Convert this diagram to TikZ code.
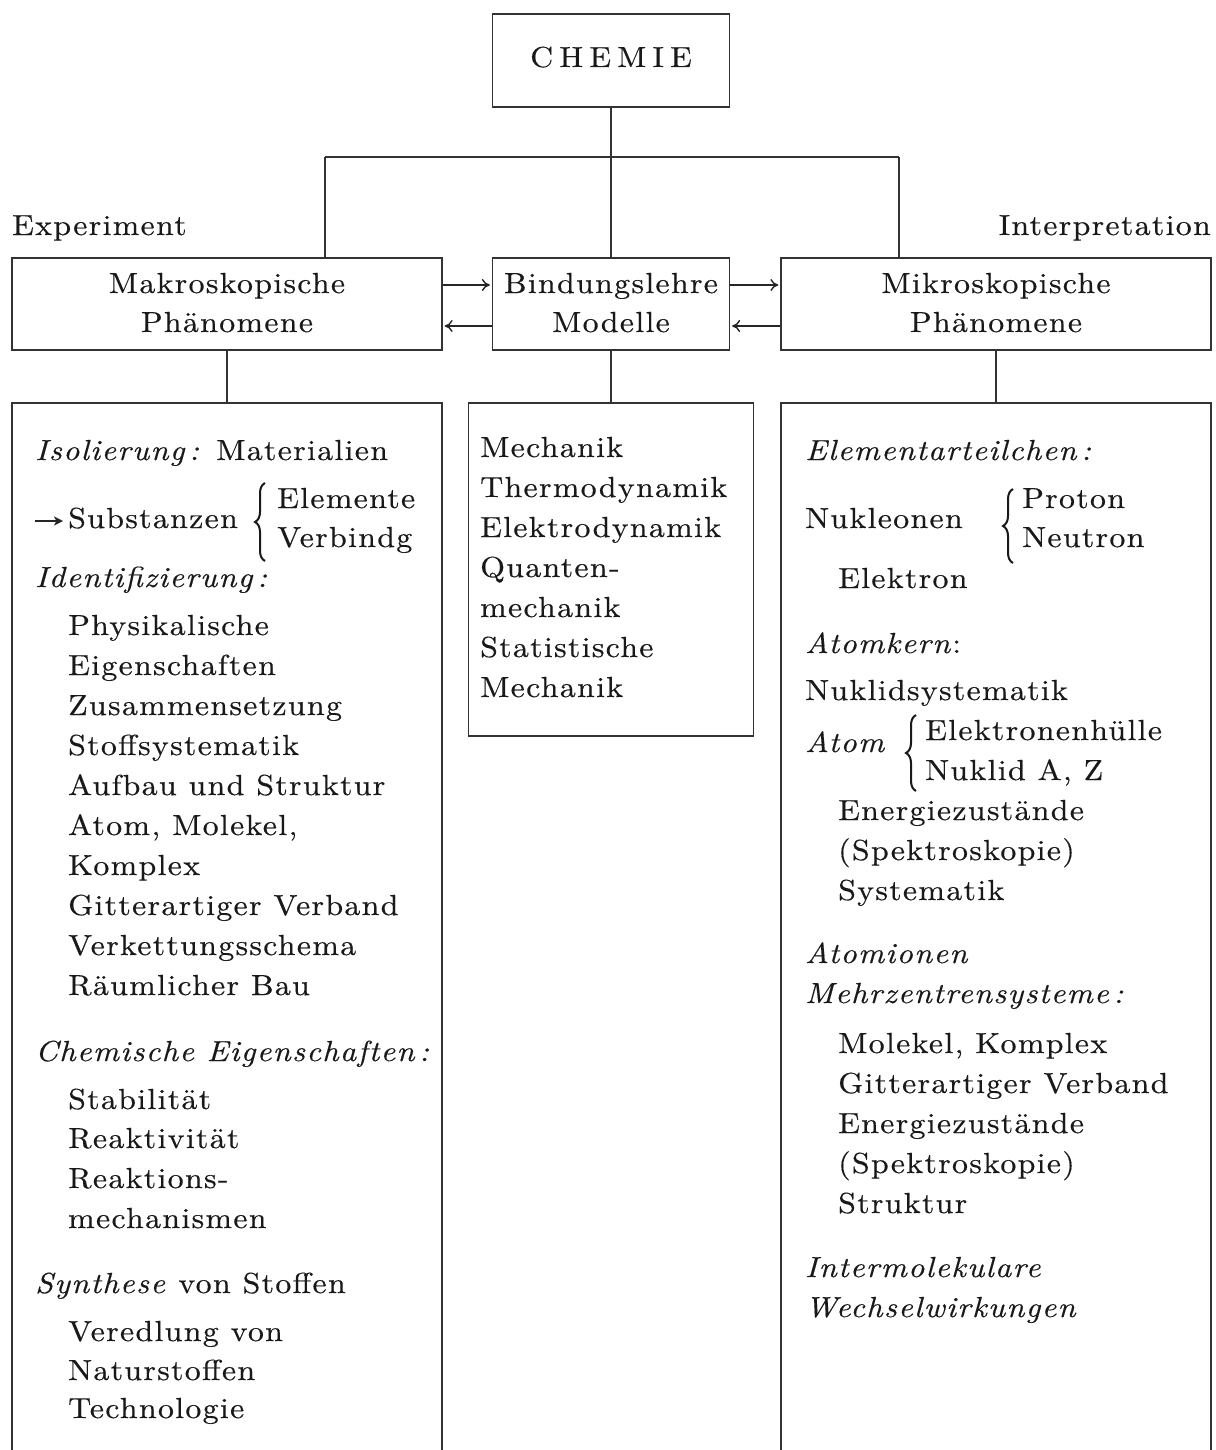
\documentclass[tikz,border=0pt]{standalone}
\usepackage{fontspec}
\setmainfont{lmroman10-regular.otf}[ItalicFont=lmroman10-italic.otf, FakeStretch=1.1, LetterSpace=4.5, FakeBold=0.4]
\newfontfamily\widefont{lmroman10-regular.otf}[FakeStretch=1.1, LetterSpace=21, FakeBold=0.4]
\usetikzlibrary{arrows.meta,decorations.pathreplacing}
\begin{document}
\begin{tikzpicture}[x=1pt,y=-1pt,
  every node/.style={inner sep=0pt, font=\fontsize{29pt}{40pt}\selectfont, text=black!90},
  boxnode/.style={draw=black!80, line width=1.3pt, minimum width=#1},
  lne/.style={draw=black!80, line width=1.3pt},
  txt/.style={anchor=base west},
  ctxt/.style={anchor=base},
  arr/.style={draw=black!85, line width=1.4pt, -{Computer Modern Rightarrow[length=8pt,width=12pt]}, shorten >=2pt},
  smallarr/.style={draw=black!85, line width=1.6pt, -{Stealth[length=9pt,width=9pt,inset=2.5pt]}},
  brc/.style={draw=black!90, line width=2pt, decorate, decoration={brace, amplitude=10pt, aspect=0.5}}
]
\useasboundingbox (0,0) rectangle (1215,1450);

% top box
\node[boxnode=237pt, minimum height=93pt] (chemie) at (611,60.5) {};
\node[ctxt] (chemietxt) at (611,67) {\widefont CHEMIE};

% tree
\coordinate (j) at (611,157);
\coordinate (hl) at (325,157);
\coordinate (hr) at (899,157);
\draw[lne] (chemie.south) -- (j);
\draw[lne] (hl) -- (hr);

% middle row boxes
\node[boxnode=430pt, minimum height=92pt] (makro) at (227,304) {};
\node[boxnode=237pt, minimum height=92pt] (bind) at (611,304) {};
\node[boxnode=430pt, minimum height=92pt] (mikro) at (996,304) {};

\draw[lne] (hl) -- (hl |- makro.north);
\draw[lne] (j) -- (bind.north);
\draw[lne] (hr) -- (hr |- mikro.north);

\node[txt] (exp) at (12,235) {Experiment};
\node[anchor=base east] (interp) at (1211,235) {Interpretation};

\node[ctxt] (mk1) at (227,293) {Makroskopische};
\node[ctxt] (mk2) at (227,332) {Phänomene};
\node[ctxt] (bd1) at (611,293) {Bindungslehre};
\node[ctxt] (bd2) at (611,332) {Modelle};
\node[ctxt] (mi1) at (996,293) {Mikroskopische};
\node[ctxt] (mi2) at (996,332) {Phänomene};

% arrows
\draw[arr] ([yshift=19pt]makro.east) -- ([yshift=19pt]bind.west);
\draw[arr] ([yshift=-22pt]bind.west) -- ([yshift=-22pt]makro.east);
\draw[arr] ([yshift=19pt]bind.east) -- ([yshift=19pt]mikro.west);
\draw[arr] ([yshift=-22pt]mikro.west) -- ([yshift=-22pt]bind.east);

% bottom boxes
\coordinate (ltop) at (227,403);
\coordinate (rtop) at (996,403);
\draw[lne] (12,1452) -- (12,403) -- (442,403) -- (442,1452);
\draw[lne] (781,1452) -- (781,403) -- (1211,403) -- (1211,1452);
\node[boxnode=285pt, minimum height=333pt] (mitte) at (611,569.5) {};

\draw[lne] (makro.south) -- (ltop);
\draw[lne] (bind.south) -- (mitte.north);
\draw[lne] (mikro.south) -- (rtop);

% left column
\node[txt] (l1) at (35,460) {\textit{Isolierung\,:} Materialien};
\coordinate (sa1) at (35,521);
\coordinate (sa2) at (63,521);
\draw[smallarr] (sa1) -- (sa2);
\node[txt] (l2) at (68,528) {Substanzen};
\coordinate (lb1a) at (265,561);
\coordinate (lb1b) at (265,483);
\draw[brc] (lb1a) -- (lb1b);
\node[txt] (l3) at (277,508) {Elemente};
\node[txt] (l4) at (277,547) {Verbindg};
\node[txt] (l5) at (35,587) {\textit{Identifizierung\,:}};
\node[txt] (l6) at (68,635) {Physikalische};
\node[txt] (l7) at (68,675) {Eigenschaften};
\node[txt] (l8) at (68,715) {Zusammensetzung};
\node[txt] (l9) at (68,755) {Stoffsystematik};
\node[txt] (l10) at (68,795) {Aufbau und Struktur};
\node[txt] (l11) at (68,835) {Atom, Molekel,};
\node[txt] (l12) at (68,875) {Komplex};
\node[txt] (l13) at (68,915) {Gitterartiger Verband};
\node[txt] (l14) at (68,955) {Verkettungsschema};
\node[txt] (l15) at (68,995) {Räumlicher Bau};
\node[txt] (l16) at (35,1061) {\textit{Chemische Eigenschaften\,:}};
\node[txt] (l17) at (68,1109) {Stabilität};
\node[txt] (l18) at (68,1148) {Reaktivität};
\node[txt] (l19) at (68,1188) {Reaktions-};
\node[txt] (l20) at (68,1228) {mechanismen};
\node[txt] (l21) at (35,1293) {\textit{Synthese} von Stoffen};
\node[txt] (l22) at (68,1341) {Veredlung von};
\node[txt] (l23) at (68,1380) {Naturstoffen};
\node[txt] (l24) at (68,1418) {Technologie};

% middle column
\node[txt] (m1) at (480,457) {Mechanik};
\node[txt] (m2) at (480,497) {Thermodynamik};
\node[txt] (m3) at (480,537) {Elektrodynamik};
\node[txt] (m4) at (480,577) {Quanten-};
\node[txt] (m5) at (480,617) {mechanik};
\node[txt] (m6) at (480,657) {Statistische};
\node[txt] (m7) at (480,697) {Mechanik};

% right column
\node[txt] (r1) at (805,460) {\textit{Elementarteilchen\,:}};
\node[txt] (r2) at (805,528) {Nukleonen};
\coordinate (rb1a) at (1013,563);
\coordinate (rb1b) at (1013,489);
\draw[brc] (rb1a) -- (rb1b);
\node[txt] (r3) at (1022,508) {Proton};
\node[txt] (r4) at (1022,547) {Neutron};
\node[txt] (r5) at (838,588) {Elektron};
\node[txt] (r6) at (805,653) {\textit{Atomkern}:};
\node[txt] (r7) at (805,700) {Nuklidsystematik};
\node[txt] (r8) at (805,752) {\textit{Atom}};
\coordinate (rb2a) at (916,791);
\coordinate (rb2b) at (916,715);
\draw[brc] (rb2a) -- (rb2b);
\node[txt] (r9) at (925,740) {Elektronenhülle};
\node[txt] (r10) at (925,780) {Nuklid A, Z};
\node[txt] (r11) at (838,820) {Energiezustände};
\node[txt] (r12) at (838,860) {(Spektroskopie)};
\node[txt] (r13) at (838,900) {Systematik};
\node[txt] (r14) at (805,963) {\textit{Atomionen}};
\node[txt] (r15) at (805,1003) {\textit{Mehrzentrensysteme\,:}};
\node[txt] (r16) at (838,1053) {Molekel, Komplex};
\node[txt] (r17) at (838,1093) {Gitterartiger Verband};
\node[txt] (r18) at (838,1133) {Energiezustände};
\node[txt] (r19) at (838,1173) {(Spektroskopie)};
\node[txt] (r20) at (838,1213) {Struktur};
\node[txt] (r21) at (805,1277) {\textit{Intermolekulare}};
\node[txt] (r22) at (805,1317) {\textit{Wechselwirkungen}};
\end{tikzpicture}
\end{document}
